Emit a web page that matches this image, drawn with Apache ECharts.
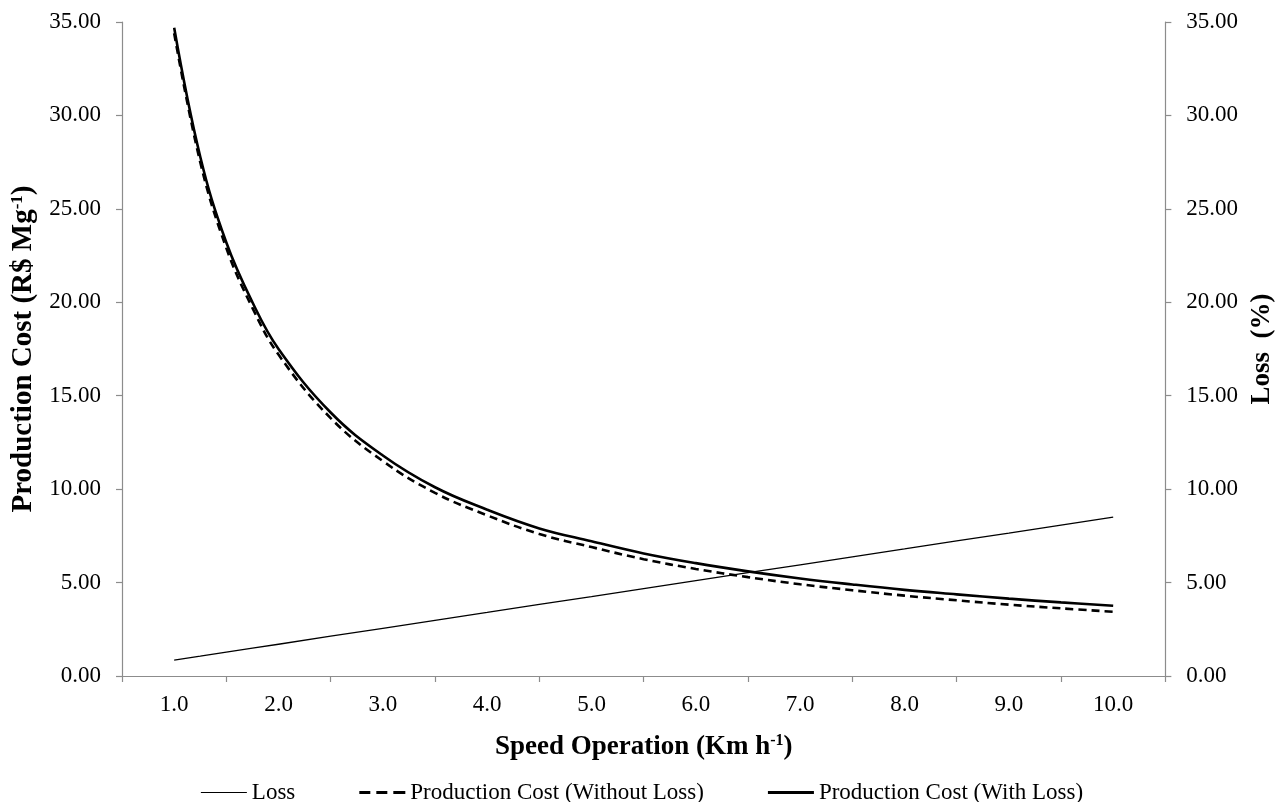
<!DOCTYPE html>
<html>
<head>
<meta charset="utf-8">
<script src="https://cdn.jsdelivr.net/npm/echarts@6/dist/echarts.min.js"></script>
<style>
html,body{margin:0;padding:0;background:#fff;}
#chart{width:1284px;height:802px;}
</style>
</head>
<body>
<div id="chart"></div>
<script>
const categories = ['1.0','2.0','3.0','4.0','5.0','6.0','7.0','8.0','9.0','10.0'];
const speed = [1.0,1.25,1.5,1.75,2.0,2.5,3.0,3.5,4.0,4.5,5.0,5.5,6.0,6.5,7.0,7.5,8.0,8.5,9.0,9.5,10.0];
const lossValues = [0.85,1.06,1.28,1.49,1.70,2.13,2.55,2.98,3.40,3.83,4.25,4.68,5.10,5.53,5.95,6.38,6.80,7.23,7.65,8.08,8.50];
const costWithoutLoss = [34.40,27.50,22.90,19.70,17.20,13.80,11.50,9.80,8.60,7.60,6.90,6.25,5.73,5.29,4.91,4.59,4.30,4.05,3.82,3.62,3.44];
const costWithLoss = [34.69,27.79,23.20,20.00,17.50,14.10,11.80,10.10,8.90,7.90,7.21,6.56,6.04,5.60,5.22,4.90,4.61,4.37,4.14,3.94,3.76];
const seriesNames = ['Loss', 'Production Cost (Without Loss)', 'Production Cost (With Loss)'];

const FONT = '"Liberation Serif", "DejaVu Serif", serif';
const pair = (xs, ys) => xs.map((x, i) => [x, ys[i]]);

const chart = echarts.init(document.getElementById('chart'));
const axisLineStyle = { color: '#8c8c8c', width: 1.2 };
const makeRich = (size) => ({
  a: { fontFamily: FONT, fontSize: size, fontWeight: 'bold', color: '#000' },
  s: { fontFamily: FONT, fontSize: Math.round(size * 0.58), fontWeight: 'bold', color: '#000', verticalAlign: 'top', padding: [0, 0, 12, 0] }
});
const ICON_THIN = 'path://M0,0h0.01v0.01h-0.01zM0,1.4h46v1.2h-46zM0,3.99h0.01v0.01h-0.01z';
const ICON_DASH = 'path://M0,0.6h11v2.8h-11zM17,0.6h11v2.8h-11zM34,0.6h12v2.8h-12zM0,0h0.01v0.01h-0.01zM0,3.99h0.01v0.01h-0.01z';
const ICON_SOLID = 'path://M0,0.6h46v2.8h-46zM0,0h0.01v0.01h-0.01zM0,3.99h0.01v0.01h-0.01z';

chart.setOption({
  animation: false,
  backgroundColor: '#fff',
  grid: { left: 122, right: 118, top: 22, bottom: 126, containLabel: false },
  legend: {
    top: 776,
    left: 'center',
    itemWidth: 46,
    itemHeight: 4,
    itemGap: 64,
    symbolKeepAspect: false,
    textStyle: { fontFamily: FONT, fontSize: 23, color: '#000', padding: [0,0,0,0] },
    data: [
      { name: seriesNames[0], icon: ICON_THIN },
      { name: seriesNames[1], icon: ICON_DASH },
      { name: seriesNames[2], icon: ICON_SOLID }
    ]
  },
  xAxis: [
    {
      type: 'category',
      data: categories,
      boundaryGap: true,
      position: 'bottom',
      axisLine: { lineStyle: axisLineStyle },
      axisTick: { show: true, length: 6, lineStyle: axisLineStyle, alignWithLabel: false },
      axisLabel: { fontFamily: FONT, fontSize: 23, color: '#000', margin: 17 },
      name: '{a|Speed Operation (Km h}{s|-1}{a|)}',
      nameLocation: 'middle',
      nameGap: 57,
      nameTextStyle: { rich: makeRich(27) }
    },
    {
      type: 'value',
      min: 0.5,
      max: 10.5,
      show: false
    }
  ],
  yAxis: [
    {
      type: 'value',
      min: 0, max: 35, interval: 5,
      position: 'left',
      axisLine: { show: true, lineStyle: axisLineStyle },
      axisTick: { show: true, length: 6, lineStyle: axisLineStyle },
      splitLine: { show: false },
      axisLabel: { fontFamily: FONT, fontSize: 23, color: '#000', margin: 21, formatter: v => v.toFixed(2) },
      name: '{a|Production Cost (R$ Mg}{s|-1}{a|)}',
      nameLocation: 'middle',
      nameRotate: 90,
      nameGap: 80,
      nameTextStyle: { rich: makeRich(29) }
    },
    {
      type: 'value',
      min: 0, max: 35, interval: 5,
      position: 'right',
      axisLine: { show: true, lineStyle: axisLineStyle },
      axisTick: { show: true, length: 6, lineStyle: axisLineStyle },
      splitLine: { show: false },
      axisLabel: { fontFamily: FONT, fontSize: 23, color: '#000', margin: 21, formatter: v => v.toFixed(2) },
      name: '{a|Loss  (%)}',
      nameLocation: 'middle',
      nameRotate: 90,
      nameGap: 77,
      nameTextStyle: { rich: makeRich(27) }
    }
  ],
  series: [
    {
      name: seriesNames[0],
      type: 'line',
      xAxisIndex: 1,
      yAxisIndex: 1,
      data: pair(speed, lossValues),
      symbol: 'none',
      smooth: false,
      lineStyle: { color: '#000', width: 1.3 },
      itemStyle: { color: '#000' },
      z: 3
    },
    {
      name: seriesNames[1],
      type: 'line',
      xAxisIndex: 1,
      yAxisIndex: 0,
      data: pair(speed, costWithoutLoss),
      symbol: 'none',
      smooth: 0.4,
      lineStyle: { color: '#000', width: 2.6, type: [8, 5] },
      itemStyle: { color: '#000' },
      z: 4
    },
    {
      name: seriesNames[2],
      type: 'line',
      xAxisIndex: 1,
      yAxisIndex: 0,
      data: pair(speed, costWithLoss),
      symbol: 'none',
      smooth: 0.4,
      lineStyle: { color: '#000', width: 2.6 },
      itemStyle: { color: '#000' },
      z: 5
    }
  ]
});
</script>
</body>
</html>
